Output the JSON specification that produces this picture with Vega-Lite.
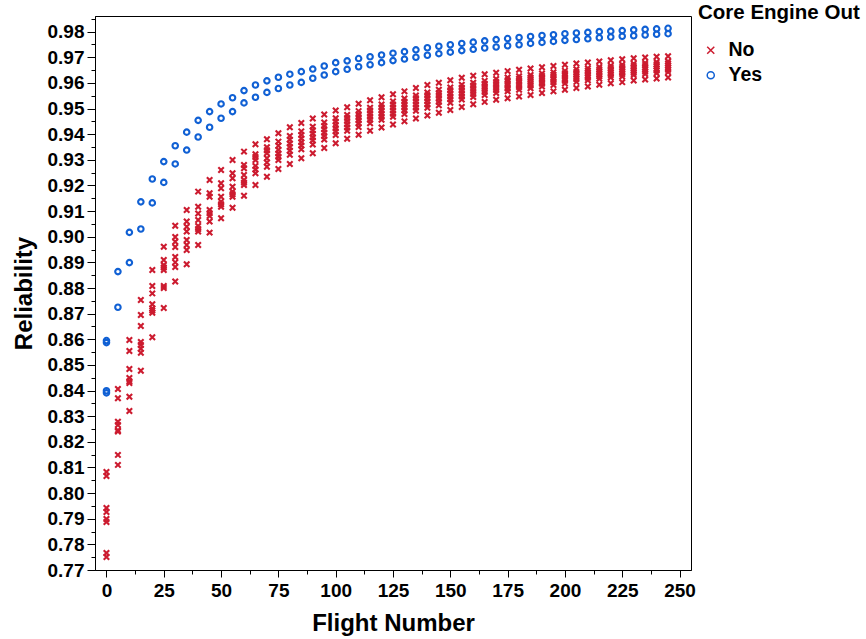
{
"$schema": "https://vega.github.io/schema/vega-lite/v6.json",
"width": 596, "height": 554,
"autosize": {"type": "none"},
"padding": {"left": 95, "top": 16, "right": 175, "bottom": 69},
"background": "white",
"config": {
  "view": {"stroke": "#000", "strokeWidth": 1},
  "font": "Liberation Sans",
  "axis": {"grid": false, "domainColor": "#000", "domainWidth": 1, "tickColor": "#000", "tickWidth": 1, "labelColor": "#000", "titleColor": "#000", "labelFont": "Liberation Sans", "titleFont": "Liberation Sans", "labelFontWeight": "bold", "titleFontWeight": "bold", "labelOverlap": false, "labelBound": false},
  "legend": {"titleFont": "Liberation Sans", "labelFont": "Liberation Sans"}
},
"data": {"values": [
{"f":0,"c":"No","r":0.7751},{"f":0,"c":"No","r":0.7766},{"f":0,"c":"No","r":0.7887},{"f":0,"c":"No","r":0.7899},{"f":0,"c":"No","r":0.7926},{"f":0,"c":"No","r":0.7942},{"f":0,"c":"No","r":0.8067},{"f":0,"c":"No","r":0.8082},
{"f":5,"c":"No","r":0.8110},{"f":5,"c":"No","r":0.8149},{"f":5,"c":"No","r":0.8240},{"f":5,"c":"No","r":0.8245},{"f":5,"c":"No","r":0.8266},{"f":5,"c":"No","r":0.8278},{"f":5,"c":"No","r":0.8370},{"f":5,"c":"No","r":0.8406},
{"f":10,"c":"No","r":0.8320},{"f":10,"c":"No","r":0.8376},{"f":10,"c":"No","r":0.8429},{"f":10,"c":"No","r":0.8436},{"f":10,"c":"No","r":0.8449},{"f":10,"c":"No","r":0.8484},{"f":10,"c":"No","r":0.8554},{"f":10,"c":"No","r":0.8597},
{"f":15,"c":"No","r":0.8477},{"f":15,"c":"No","r":0.8547},{"f":15,"c":"No","r":0.8563},{"f":15,"c":"No","r":0.8578},{"f":15,"c":"No","r":0.8589},{"f":15,"c":"No","r":0.8652},{"f":15,"c":"No","r":0.8695},{"f":15,"c":"No","r":0.8753},
{"f":20,"c":"No","r":0.8608},{"f":20,"c":"No","r":0.8703},{"f":20,"c":"No","r":0.8712},{"f":20,"c":"No","r":0.8720},{"f":20,"c":"No","r":0.8737},{"f":20,"c":"No","r":0.8779},{"f":20,"c":"No","r":0.8808},{"f":20,"c":"No","r":0.8870},
{"f":25,"c":"No","r":0.8722},{"f":25,"c":"No","r":0.8800},{"f":25,"c":"No","r":0.8808},{"f":25,"c":"No","r":0.8870},{"f":25,"c":"No","r":0.8880},{"f":25,"c":"No","r":0.8890},{"f":25,"c":"No","r":0.8909},{"f":25,"c":"No","r":0.8961},
{"f":30,"c":"No","r":0.8825},{"f":30,"c":"No","r":0.8882},{"f":30,"c":"No","r":0.8900},{"f":30,"c":"No","r":0.8921},{"f":30,"c":"No","r":0.8960},{"f":30,"c":"No","r":0.8980},{"f":30,"c":"No","r":0.8999},{"f":30,"c":"No","r":0.9043},
{"f":35,"c":"No","r":0.8893},{"f":35,"c":"No","r":0.8948},{"f":35,"c":"No","r":0.8968},{"f":35,"c":"No","r":0.8987},{"f":35,"c":"No","r":0.9020},{"f":35,"c":"No","r":0.9039},{"f":35,"c":"No","r":0.9059},{"f":35,"c":"No","r":0.9104},
{"f":40,"c":"No","r":0.8968},{"f":40,"c":"No","r":0.9020},{"f":40,"c":"No","r":0.9030},{"f":40,"c":"No","r":0.9042},{"f":40,"c":"No","r":0.9065},{"f":40,"c":"No","r":0.9091},{"f":40,"c":"No","r":0.9117},{"f":40,"c":"No","r":0.9176},
{"f":45,"c":"No","r":0.9016},{"f":45,"c":"No","r":0.9059},{"f":45,"c":"No","r":0.9081},{"f":45,"c":"No","r":0.9092},{"f":45,"c":"No","r":0.9104},{"f":45,"c":"No","r":0.9156},{"f":45,"c":"No","r":0.9170},{"f":45,"c":"No","r":0.9221},
{"f":50,"c":"No","r":0.9072},{"f":50,"c":"No","r":0.9117},{"f":50,"c":"No","r":0.9127},{"f":50,"c":"No","r":0.9137},{"f":50,"c":"No","r":0.9156},{"f":50,"c":"No","r":0.9189},{"f":50,"c":"No","r":0.9209},{"f":50,"c":"No","r":0.9260},
{"f":55,"c":"No","r":0.9113},{"f":55,"c":"No","r":0.9156},{"f":55,"c":"No","r":0.9166},{"f":55,"c":"No","r":0.9176},{"f":55,"c":"No","r":0.9195},{"f":55,"c":"No","r":0.9228},{"f":55,"c":"No","r":0.9248},{"f":55,"c":"No","r":0.9299},
{"f":60,"c":"No","r":0.9160},{"f":60,"c":"No","r":0.9202},{"f":60,"c":"No","r":0.9211},{"f":60,"c":"No","r":0.9221},{"f":60,"c":"No","r":0.9241},{"f":60,"c":"No","r":0.9267},{"f":60,"c":"No","r":0.9280},{"f":60,"c":"No","r":0.9332},
{"f":65,"c":"No","r":0.9202},{"f":65,"c":"No","r":0.9248},{"f":65,"c":"No","r":0.9262},{"f":65,"c":"No","r":0.9276},{"f":65,"c":"No","r":0.9299},{"f":65,"c":"No","r":0.9311},{"f":65,"c":"No","r":0.9322},{"f":65,"c":"No","r":0.9361},
{"f":70,"c":"No","r":0.9234},{"f":70,"c":"No","r":0.9273},{"f":70,"c":"No","r":0.9290},{"f":70,"c":"No","r":0.9306},{"f":70,"c":"No","r":0.9326},{"f":70,"c":"No","r":0.9337},{"f":70,"c":"No","r":0.9349},{"f":70,"c":"No","r":0.9380},
{"f":75,"c":"No","r":0.9264},{"f":75,"c":"No","r":0.9299},{"f":75,"c":"No","r":0.9312},{"f":75,"c":"No","r":0.9325},{"f":75,"c":"No","r":0.9338},{"f":75,"c":"No","r":0.9355},{"f":75,"c":"No","r":0.9371},{"f":75,"c":"No","r":0.9404},
{"f":80,"c":"No","r":0.9284},{"f":80,"c":"No","r":0.9320},{"f":80,"c":"No","r":0.9335},{"f":80,"c":"No","r":0.9350},{"f":80,"c":"No","r":0.9364},{"f":80,"c":"No","r":0.9378},{"f":80,"c":"No","r":0.9393},{"f":80,"c":"No","r":0.9427},
{"f":85,"c":"No","r":0.9306},{"f":85,"c":"No","r":0.9341},{"f":85,"c":"No","r":0.9356},{"f":85,"c":"No","r":0.9369},{"f":85,"c":"No","r":0.9383},{"f":85,"c":"No","r":0.9397},{"f":85,"c":"No","r":0.9411},{"f":85,"c":"No","r":0.9444},
{"f":90,"c":"No","r":0.9326},{"f":90,"c":"No","r":0.9360},{"f":90,"c":"No","r":0.9375},{"f":90,"c":"No","r":0.9388},{"f":90,"c":"No","r":0.9402},{"f":90,"c":"No","r":0.9415},{"f":90,"c":"No","r":0.9429},{"f":90,"c":"No","r":0.9461},
{"f":95,"c":"No","r":0.9346},{"f":95,"c":"No","r":0.9379},{"f":95,"c":"No","r":0.9393},{"f":95,"c":"No","r":0.9406},{"f":95,"c":"No","r":0.9419},{"f":95,"c":"No","r":0.9432},{"f":95,"c":"No","r":0.9446},{"f":95,"c":"No","r":0.9477},
{"f":100,"c":"No","r":0.9365},{"f":100,"c":"No","r":0.9397},{"f":100,"c":"No","r":0.9411},{"f":100,"c":"No","r":0.9423},{"f":100,"c":"No","r":0.9436},{"f":100,"c":"No","r":0.9449},{"f":100,"c":"No","r":0.9462},{"f":100,"c":"No","r":0.9492},
{"f":105,"c":"No","r":0.9382},{"f":105,"c":"No","r":0.9413},{"f":105,"c":"No","r":0.9426},{"f":105,"c":"No","r":0.9439},{"f":105,"c":"No","r":0.9451},{"f":105,"c":"No","r":0.9463},{"f":105,"c":"No","r":0.9475},{"f":105,"c":"No","r":0.9505},
{"f":110,"c":"No","r":0.9398},{"f":110,"c":"No","r":0.9428},{"f":110,"c":"No","r":0.9442},{"f":110,"c":"No","r":0.9454},{"f":110,"c":"No","r":0.9466},{"f":110,"c":"No","r":0.9478},{"f":110,"c":"No","r":0.9490},{"f":110,"c":"No","r":0.9519},
{"f":115,"c":"No","r":0.9413},{"f":115,"c":"No","r":0.9443},{"f":115,"c":"No","r":0.9456},{"f":115,"c":"No","r":0.9468},{"f":115,"c":"No","r":0.9480},{"f":115,"c":"No","r":0.9492},{"f":115,"c":"No","r":0.9503},{"f":115,"c":"No","r":0.9532},
{"f":120,"c":"No","r":0.9426},{"f":120,"c":"No","r":0.9456},{"f":120,"c":"No","r":0.9468},{"f":120,"c":"No","r":0.9480},{"f":120,"c":"No","r":0.9492},{"f":120,"c":"No","r":0.9504},{"f":120,"c":"No","r":0.9516},{"f":120,"c":"No","r":0.9544},
{"f":125,"c":"No","r":0.9438},{"f":125,"c":"No","r":0.9468},{"f":125,"c":"No","r":0.9480},{"f":125,"c":"No","r":0.9492},{"f":125,"c":"No","r":0.9504},{"f":125,"c":"No","r":0.9516},{"f":125,"c":"No","r":0.9528},{"f":125,"c":"No","r":0.9556},
{"f":130,"c":"No","r":0.9450},{"f":130,"c":"No","r":0.9479},{"f":130,"c":"No","r":0.9492},{"f":130,"c":"No","r":0.9504},{"f":130,"c":"No","r":0.9516},{"f":130,"c":"No","r":0.9527},{"f":130,"c":"No","r":0.9539},{"f":130,"c":"No","r":0.9567},
{"f":135,"c":"No","r":0.9461},{"f":135,"c":"No","r":0.9491},{"f":135,"c":"No","r":0.9504},{"f":135,"c":"No","r":0.9516},{"f":135,"c":"No","r":0.9528},{"f":135,"c":"No","r":0.9540},{"f":135,"c":"No","r":0.9551},{"f":135,"c":"No","r":0.9580},
{"f":140,"c":"No","r":0.9473},{"f":140,"c":"No","r":0.9503},{"f":140,"c":"No","r":0.9516},{"f":140,"c":"No","r":0.9528},{"f":140,"c":"No","r":0.9540},{"f":140,"c":"No","r":0.9552},{"f":140,"c":"No","r":0.9563},{"f":140,"c":"No","r":0.9592},
{"f":145,"c":"No","r":0.9484},{"f":145,"c":"No","r":0.9513},{"f":145,"c":"No","r":0.9526},{"f":145,"c":"No","r":0.9538},{"f":145,"c":"No","r":0.9550},{"f":145,"c":"No","r":0.9561},{"f":145,"c":"No","r":0.9573},{"f":145,"c":"No","r":0.9601},
{"f":150,"c":"No","r":0.9494},{"f":150,"c":"No","r":0.9523},{"f":150,"c":"No","r":0.9536},{"f":150,"c":"No","r":0.9547},{"f":150,"c":"No","r":0.9559},{"f":150,"c":"No","r":0.9571},{"f":150,"c":"No","r":0.9582},{"f":150,"c":"No","r":0.9610},
{"f":155,"c":"No","r":0.9506},{"f":155,"c":"No","r":0.9535},{"f":155,"c":"No","r":0.9547},{"f":155,"c":"No","r":0.9558},{"f":155,"c":"No","r":0.9570},{"f":155,"c":"No","r":0.9581},{"f":155,"c":"No","r":0.9593},{"f":155,"c":"No","r":0.9620},
{"f":160,"c":"No","r":0.9517},{"f":160,"c":"No","r":0.9545},{"f":160,"c":"No","r":0.9557},{"f":160,"c":"No","r":0.9568},{"f":160,"c":"No","r":0.9579},{"f":160,"c":"No","r":0.9590},{"f":160,"c":"No","r":0.9601},{"f":160,"c":"No","r":0.9628},
{"f":165,"c":"No","r":0.9526},{"f":165,"c":"No","r":0.9553},{"f":165,"c":"No","r":0.9565},{"f":165,"c":"No","r":0.9576},{"f":165,"c":"No","r":0.9586},{"f":165,"c":"No","r":0.9597},{"f":165,"c":"No","r":0.9608},{"f":165,"c":"No","r":0.9634},
{"f":170,"c":"No","r":0.9534},{"f":170,"c":"No","r":0.9561},{"f":170,"c":"No","r":0.9572},{"f":170,"c":"No","r":0.9583},{"f":170,"c":"No","r":0.9593},{"f":170,"c":"No","r":0.9604},{"f":170,"c":"No","r":0.9615},{"f":170,"c":"No","r":0.9640},
{"f":175,"c":"No","r":0.9540},{"f":175,"c":"No","r":0.9567},{"f":175,"c":"No","r":0.9578},{"f":175,"c":"No","r":0.9589},{"f":175,"c":"No","r":0.9599},{"f":175,"c":"No","r":0.9610},{"f":175,"c":"No","r":0.9621},{"f":175,"c":"No","r":0.9646},
{"f":180,"c":"No","r":0.9547},{"f":180,"c":"No","r":0.9573},{"f":180,"c":"No","r":0.9584},{"f":180,"c":"No","r":0.9595},{"f":180,"c":"No","r":0.9605},{"f":180,"c":"No","r":0.9616},{"f":180,"c":"No","r":0.9626},{"f":180,"c":"No","r":0.9651},
{"f":185,"c":"No","r":0.9553},{"f":185,"c":"No","r":0.9579},{"f":185,"c":"No","r":0.9590},{"f":185,"c":"No","r":0.9600},{"f":185,"c":"No","r":0.9611},{"f":185,"c":"No","r":0.9621},{"f":185,"c":"No","r":0.9631},{"f":185,"c":"No","r":0.9656},
{"f":190,"c":"No","r":0.9561},{"f":190,"c":"No","r":0.9586},{"f":190,"c":"No","r":0.9597},{"f":190,"c":"No","r":0.9607},{"f":190,"c":"No","r":0.9617},{"f":190,"c":"No","r":0.9627},{"f":190,"c":"No","r":0.9637},{"f":190,"c":"No","r":0.9661},
{"f":195,"c":"No","r":0.9567},{"f":195,"c":"No","r":0.9592},{"f":195,"c":"No","r":0.9603},{"f":195,"c":"No","r":0.9613},{"f":195,"c":"No","r":0.9622},{"f":195,"c":"No","r":0.9632},{"f":195,"c":"No","r":0.9642},{"f":195,"c":"No","r":0.9666},
{"f":200,"c":"No","r":0.9573},{"f":200,"c":"No","r":0.9598},{"f":200,"c":"No","r":0.9608},{"f":200,"c":"No","r":0.9618},{"f":200,"c":"No","r":0.9628},{"f":200,"c":"No","r":0.9638},{"f":200,"c":"No","r":0.9647},{"f":200,"c":"No","r":0.9671},
{"f":205,"c":"No","r":0.9580},{"f":205,"c":"No","r":0.9604},{"f":205,"c":"No","r":0.9615},{"f":205,"c":"No","r":0.9624},{"f":205,"c":"No","r":0.9634},{"f":205,"c":"No","r":0.9643},{"f":205,"c":"No","r":0.9653},{"f":205,"c":"No","r":0.9676},
{"f":210,"c":"No","r":0.9586},{"f":210,"c":"No","r":0.9610},{"f":210,"c":"No","r":0.9620},{"f":210,"c":"No","r":0.9629},{"f":210,"c":"No","r":0.9639},{"f":210,"c":"No","r":0.9648},{"f":210,"c":"No","r":0.9657},{"f":210,"c":"No","r":0.9680},
{"f":215,"c":"No","r":0.9593},{"f":215,"c":"No","r":0.9616},{"f":215,"c":"No","r":0.9626},{"f":215,"c":"No","r":0.9635},{"f":215,"c":"No","r":0.9644},{"f":215,"c":"No","r":0.9653},{"f":215,"c":"No","r":0.9662},{"f":215,"c":"No","r":0.9684},
{"f":220,"c":"No","r":0.9599},{"f":220,"c":"No","r":0.9621},{"f":220,"c":"No","r":0.9631},{"f":220,"c":"No","r":0.9640},{"f":220,"c":"No","r":0.9649},{"f":220,"c":"No","r":0.9658},{"f":220,"c":"No","r":0.9667},{"f":220,"c":"No","r":0.9688},
{"f":225,"c":"No","r":0.9603},{"f":225,"c":"No","r":0.9625},{"f":225,"c":"No","r":0.9635},{"f":225,"c":"No","r":0.9644},{"f":225,"c":"No","r":0.9653},{"f":225,"c":"No","r":0.9662},{"f":225,"c":"No","r":0.9671},{"f":225,"c":"No","r":0.9692},
{"f":230,"c":"No","r":0.9609},{"f":230,"c":"No","r":0.9631},{"f":230,"c":"No","r":0.9640},{"f":230,"c":"No","r":0.9649},{"f":230,"c":"No","r":0.9658},{"f":230,"c":"No","r":0.9666},{"f":230,"c":"No","r":0.9675},{"f":230,"c":"No","r":0.9696},
{"f":235,"c":"No","r":0.9613},{"f":235,"c":"No","r":0.9635},{"f":235,"c":"No","r":0.9644},{"f":235,"c":"No","r":0.9653},{"f":235,"c":"No","r":0.9661},{"f":235,"c":"No","r":0.9670},{"f":235,"c":"No","r":0.9678},{"f":235,"c":"No","r":0.9699},
{"f":240,"c":"No","r":0.9617},{"f":240,"c":"No","r":0.9638},{"f":240,"c":"No","r":0.9648},{"f":240,"c":"No","r":0.9656},{"f":240,"c":"No","r":0.9665},{"f":240,"c":"No","r":0.9673},{"f":240,"c":"No","r":0.9682},{"f":240,"c":"No","r":0.9702},
{"f":245,"c":"No","r":0.9621},{"f":245,"c":"No","r":0.9642},{"f":245,"c":"No","r":0.9651},{"f":245,"c":"No","r":0.9659},{"f":245,"c":"No","r":0.9667},{"f":245,"c":"No","r":0.9676},{"f":245,"c":"No","r":0.9684},{"f":245,"c":"No","r":0.9704},
{"f":0,"c":"Yes","r":0.8595},{"f":0,"c":"Yes","r":0.8587},{"f":0,"c":"Yes","r":0.8399},{"f":0,"c":"Yes","r":0.8391},
{"f":5,"c":"Yes","r":0.8864},{"f":5,"c":"Yes","r":0.8725},
{"f":10,"c":"Yes","r":0.9017},{"f":10,"c":"Yes","r":0.8899},
{"f":15,"c":"Yes","r":0.9136},{"f":15,"c":"Yes","r":0.9030},
{"f":20,"c":"Yes","r":0.9225},{"f":20,"c":"Yes","r":0.9132},
{"f":25,"c":"Yes","r":0.9293},{"f":25,"c":"Yes","r":0.9212},
{"f":30,"c":"Yes","r":0.9355},{"f":30,"c":"Yes","r":0.9284},
{"f":35,"c":"Yes","r":0.9408},{"f":35,"c":"Yes","r":0.9338},
{"f":40,"c":"Yes","r":0.9454},{"f":40,"c":"Yes","r":0.9389},
{"f":45,"c":"Yes","r":0.9488},{"f":45,"c":"Yes","r":0.9427},
{"f":50,"c":"Yes","r":0.9518},{"f":50,"c":"Yes","r":0.9462},
{"f":55,"c":"Yes","r":0.9542},{"f":55,"c":"Yes","r":0.9488},
{"f":60,"c":"Yes","r":0.9570},{"f":60,"c":"Yes","r":0.9522},
{"f":65,"c":"Yes","r":0.9592},{"f":65,"c":"Yes","r":0.9544},
{"f":70,"c":"Yes","r":0.9608},{"f":70,"c":"Yes","r":0.9563},
{"f":75,"c":"Yes","r":0.9622},{"f":75,"c":"Yes","r":0.9578},
{"f":80,"c":"Yes","r":0.9634},{"f":80,"c":"Yes","r":0.9592},
{"f":85,"c":"Yes","r":0.9644},{"f":85,"c":"Yes","r":0.9602},
{"f":90,"c":"Yes","r":0.9654},{"f":90,"c":"Yes","r":0.9618},
{"f":95,"c":"Yes","r":0.9666},{"f":95,"c":"Yes","r":0.9631},
{"f":100,"c":"Yes","r":0.9679},{"f":100,"c":"Yes","r":0.9644},
{"f":105,"c":"Yes","r":0.9686},{"f":105,"c":"Yes","r":0.9653},
{"f":110,"c":"Yes","r":0.9695},{"f":110,"c":"Yes","r":0.9663},
{"f":115,"c":"Yes","r":0.9702},{"f":115,"c":"Yes","r":0.9671},
{"f":120,"c":"Yes","r":0.9709},{"f":120,"c":"Yes","r":0.9679},
{"f":125,"c":"Yes","r":0.9716},{"f":125,"c":"Yes","r":0.9687},
{"f":130,"c":"Yes","r":0.9722},{"f":130,"c":"Yes","r":0.9693},
{"f":135,"c":"Yes","r":0.9729},{"f":135,"c":"Yes","r":0.9700},
{"f":140,"c":"Yes","r":0.9737},{"f":140,"c":"Yes","r":0.9708},
{"f":145,"c":"Yes","r":0.9743},{"f":145,"c":"Yes","r":0.9714},
{"f":150,"c":"Yes","r":0.9749},{"f":150,"c":"Yes","r":0.9720},
{"f":155,"c":"Yes","r":0.9754},{"f":155,"c":"Yes","r":0.9726},
{"f":160,"c":"Yes","r":0.9759},{"f":160,"c":"Yes","r":0.9731},
{"f":165,"c":"Yes","r":0.9764},{"f":165,"c":"Yes","r":0.9736},
{"f":170,"c":"Yes","r":0.9769},{"f":170,"c":"Yes","r":0.9740},
{"f":175,"c":"Yes","r":0.9773},{"f":175,"c":"Yes","r":0.9745},
{"f":180,"c":"Yes","r":0.9777},{"f":180,"c":"Yes","r":0.9749},
{"f":185,"c":"Yes","r":0.9781},{"f":185,"c":"Yes","r":0.9754},
{"f":190,"c":"Yes","r":0.9785},{"f":190,"c":"Yes","r":0.9758},
{"f":195,"c":"Yes","r":0.9788},{"f":195,"c":"Yes","r":0.9762},
{"f":200,"c":"Yes","r":0.9792},{"f":200,"c":"Yes","r":0.9766},
{"f":205,"c":"Yes","r":0.9795},{"f":205,"c":"Yes","r":0.9769},
{"f":210,"c":"Yes","r":0.9797},{"f":210,"c":"Yes","r":0.9772},
{"f":215,"c":"Yes","r":0.9800},{"f":215,"c":"Yes","r":0.9776},
{"f":220,"c":"Yes","r":0.9802},{"f":220,"c":"Yes","r":0.9779},
{"f":225,"c":"Yes","r":0.9804},{"f":225,"c":"Yes","r":0.9782},
{"f":230,"c":"Yes","r":0.9807},{"f":230,"c":"Yes","r":0.9784},
{"f":235,"c":"Yes","r":0.9809},{"f":235,"c":"Yes","r":0.9787},
{"f":240,"c":"Yes","r":0.9811},{"f":240,"c":"Yes","r":0.9790},
{"f":245,"c":"Yes","r":0.9813},{"f":245,"c":"Yes","r":0.9792}
]},
"layer": [
  {
    "mark": {"type": "point", "filled": false, "opacity": 1, "strokeWidth": 2.1, "size": 30},
    "encoding": {
      "x": {"field": "f", "type": "quantitative",
        "scale": {"domain": [-5, 255], "nice": false, "zero": false},
        "axis": {"orient": "bottom", "values": [0,25,50,75,100,125,150,175,200,225,250], "format": "d", "labelFlush": false,
          "title": "Flight Number", "titleFontSize": 24, "labelFontSize": 19, "tickSize": 7, "labelPadding": 4,
          "titleY": 60, "titleBaseline": "alphabetic"}},
      "y": {"field": "r", "type": "quantitative",
        "scale": {"domain": [0.77, 0.9861], "nice": false, "zero": false},
        "axis": {"orient": "left", "values": [0.77,0.78,0.79,0.80,0.81,0.82,0.83,0.84,0.85,0.86,0.87,0.88,0.89,0.90,0.91,0.92,0.93,0.94,0.95,0.96,0.97,0.98], "format": ".2f", "labelFlush": false,
          "title": "Reliability", "titleFontSize": 24, "labelFontSize": 19, "tickSize": 8, "labelPadding": 3,
          "titleX": -64, "titleY": 277, "titleAngle": 270, "titleAlign": "center", "titleBaseline": "alphabetic"}},
      "color": {"field": "c", "type": "nominal", "scale": {"domain": ["No", "Yes"], "range": ["#CC1B2F", "#1060D4"]},
        "legend": {"title": "Core Engine Out", "orient": "none", "legendX": 603, "legendY": -13, "padding": 0,
          "titleFontSize": 20.5, "titleFontWeight": "bold", "labelFontSize": 19.5, "labelFontWeight": "bold", "labelColor": "#000", "titleColor": "#000",
          "symbolSize": 50, "symbolStrokeWidth": 1.5, "symbolOffset": 3, "labelOffset": 8, "rowPadding": 4, "titlePadding": 17}},
      "shape": {"field": "c", "type": "nominal", "scale": {"domain": ["No", "Yes"], "range": ["M-1,-1L1,1M-1,1L1,-1", "circle"]},
        "legend": {"title": "Core Engine Out", "orient": "none", "legendX": 603, "legendY": -13, "padding": 0,
          "titleFontSize": 20.5, "titleFontWeight": "bold", "labelFontSize": 19.5, "labelFontWeight": "bold", "labelColor": "#000", "titleColor": "#000",
          "symbolSize": 50, "symbolStrokeWidth": 1.5, "symbolOffset": 3, "labelOffset": 8, "rowPadding": 4, "titlePadding": 17}}
    }
  },
  {
    "mark": {"type": "point", "opacity": 0},
    "encoding": {
      "x": {"field": "f", "type": "quantitative",
        "axis": {"orient": "bottom", "values": [12.5,37.5,62.5,87.5,112.5,137.5,162.5,187.5,212.5,237.5], "labels": false, "domain": false, "tickSize": 4, "title": null}},
      "y": {"field": "r", "type": "quantitative",
        "axis": {"orient": "left", "values": [0.775,0.785,0.795,0.805,0.815,0.825,0.835,0.845,0.855,0.865,0.875,0.885,0.895,0.905,0.915,0.925,0.935,0.945,0.955,0.965,0.975,0.985], "labels": false, "domain": false, "tickSize": 4, "title": null}}
    }
  }
],
"resolve": {"axis": {"x": "independent", "y": "independent"}}
}
